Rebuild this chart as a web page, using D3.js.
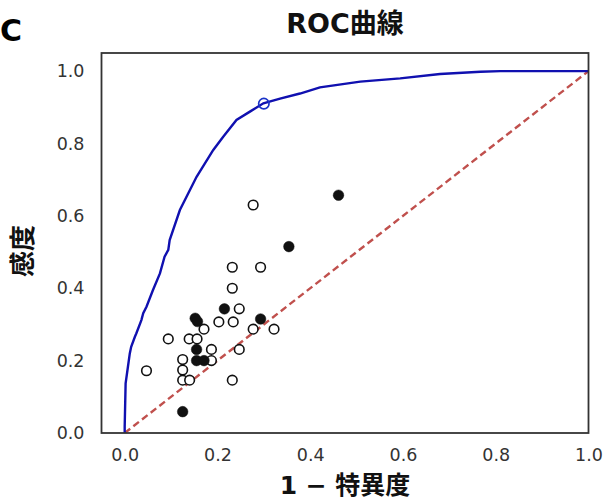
<!DOCTYPE html>
<html><head><meta charset="utf-8">
<script src="https://cdn.jsdelivr.net/npm/d3@7"></script>
<style>body{margin:0;background:#fff;}svg{display:block;}</style>
</head><body>
<svg id="chart" width="603" height="502"></svg>
<script>
// ROC curve (1 - specificity, sensitivity)
const rocFpr = [0, 0, 0.002, 0.007, 0.011, 0.014, 0.022, 0.025, 0.036, 0.040, 0.047, 0.061, 0.076, 0.086, 0.094, 0.097, 0.119, 0.155, 0.191, 0.212, 0.241, 0.270, 0.299, 0.335, 0.378, 0.421, 0.508, 0.594, 0.680, 0.767, 0.810, 1.0];
const rocTpr = [0, 0.017, 0.137, 0.183, 0.220, 0.238, 0.266, 0.275, 0.312, 0.331, 0.349, 0.395, 0.441, 0.487, 0.506, 0.533, 0.616, 0.708, 0.782, 0.818, 0.865, 0.888, 0.911, 0.924, 0.938, 0.955, 0.971, 0.980, 0.992, 0.998, 1.0, 1.0];
// Operating point on ROC curve
const opPoint = [0.30, 0.91];
// Study points: open circles
const openX = [0.232, 0.293, 0.232, 0.247, 0.203, 0.234, 0.171, 0.277, 0.322, 0.094, 0.139, 0.156, 0.187, 0.247, 0.187, 0.125, 0.047, 0.125, 0.125, 0.140, 0.232, 0.277];
const openY = [0.458, 0.458, 0.400, 0.343, 0.307, 0.307, 0.287, 0.287, 0.287, 0.260, 0.260, 0.260, 0.231, 0.231, 0.200, 0.203, 0.172, 0.174, 0.146, 0.146, 0.146, 0.630];
// Study points: filled circles
const filledX = [0.461, 0.354, 0.215, 0.152, 0.157, 0.293, 0.155, 0.155, 0.171, 0.125];
const filledY = [0.657, 0.515, 0.343, 0.317, 0.308, 0.315, 0.231, 0.200, 0.200, 0.059];
// Ticks
const xTicks = [0.0, 0.2, 0.4, 0.6, 0.8, 1.0];
const yTicks = [0.0, 0.2, 0.4, 0.6, 0.8, 1.0];

const svg = d3.select("#chart");
const L = 101.5, R = 588.5, T = 53, B = 433;
const x = d3.scaleLinear().domain([-0.05, 1.0]).range([L, R]);
const y = d3.scaleLinear().domain([0, 1.05]).range([B, T]);

const tickFont = "'DejaVu Sans', sans-serif";
const lblFont = "'DejaVu Sans', 'Noto Sans CJK JP', 'Noto Sans CJK SC', sans-serif";

// axes (labels only)
const xAxis = d3.axisBottom(x).tickValues(xTicks).tickFormat(d3.format(".1f")).tickSize(0).tickPadding(16);
const gx = svg.append("g").attr("transform", `translate(0,${B})`).call(xAxis);
gx.select(".domain").remove();
gx.selectAll("text").attr("font-family", tickFont).attr("font-size", 17.5).attr("fill", "#333");

const yAxis = d3.axisLeft(y).tickValues(yTicks).tickFormat(d3.format(".1f")).tickSize(0).tickPadding(17);
const gy = svg.append("g").attr("transform", `translate(${L},0)`).call(yAxis);
gy.select(".domain").remove();
gy.selectAll("text").attr("font-family", tickFont).attr("font-size", 17.5).attr("fill", "#333");

// clip
svg.append("clipPath").attr("id", "clip").append("rect").attr("x", L).attr("y", T).attr("width", R - L).attr("height", B - T);
const plot = svg.append("g").attr("clip-path", "url(#clip)");

// diagonal
plot.append("line")
  .attr("x1", x(0)).attr("y1", y(0)).attr("x2", x(1)).attr("y2", y(1))
  .attr("stroke", "#c0504d").attr("stroke-width", 2.4).attr("stroke-dasharray", "7,4");

// ROC curve
const rocData = rocFpr.map((f, i) => [f, rocTpr[i]]);
plot.append("path").datum(rocData)
  .attr("d", d3.line().x(d => x(d[0])).y(d => y(d[1])))
  .attr("fill", "none").attr("stroke", "#1010b0").attr("stroke-width", 2.4);

// operating point
svg.append("circle").attr("cx", x(opPoint[0])).attr("cy", y(opPoint[1])).attr("r", 5.2)
  .attr("fill", "none").attr("stroke", "#1a33c8").attr("stroke-width", 1.7);

// open points
svg.append("g").selectAll("circle").data(openX.map((v, i) => [v, openY[i]])).join("circle")
  .attr("cx", d => x(d[0])).attr("cy", d => y(d[1])).attr("r", 4.8)
  .attr("fill", "white").attr("stroke", "#111").attr("stroke-width", 1.6);

// filled points
svg.append("g").selectAll("circle").data(filledX.map((v, i) => [v, filledY[i]])).join("circle")
  .attr("cx", d => x(d[0])).attr("cy", d => y(d[1])).attr("r", 5.3)
  .attr("fill", "#111").attr("stroke", "#111").attr("stroke-width", 0.5);

// frame
svg.append("rect").attr("x", L).attr("y", T).attr("width", R - L).attr("height", B - T)
  .attr("fill", "none").attr("stroke", "#333").attr("stroke-width", 1.8);

// title
svg.append("text").attr("x", (L + R) / 2).attr("y", 33).attr("text-anchor", "middle")
  .attr("font-family", lblFont).attr("font-weight", "bold").attr("font-size", 27).attr("fill", "#111").text("ROC曲線");

// panel letter
svg.append("text").attr("x", 0).attr("y", 41).attr("font-family", "'DejaVu Sans', sans-serif")
  .attr("font-weight", "bold").attr("font-size", 30).attr("fill", "#000").text("C");

// x label
svg.append("text").attr("x", (L + R) / 2).attr("y", 494).attr("text-anchor", "middle")
  .attr("font-family", lblFont).attr("font-weight", "bold").attr("font-size", 25).attr("fill", "#111").text("1 − 特異度");

// y label
svg.append("text").attr("transform", `translate(32,${(T + B) / 2 + 8}) rotate(-90)`).attr("text-anchor", "middle")
  .attr("font-family", lblFont).attr("font-weight", "bold").attr("font-size", 26).attr("fill", "#111").text("感度");
</script>
</body></html>
